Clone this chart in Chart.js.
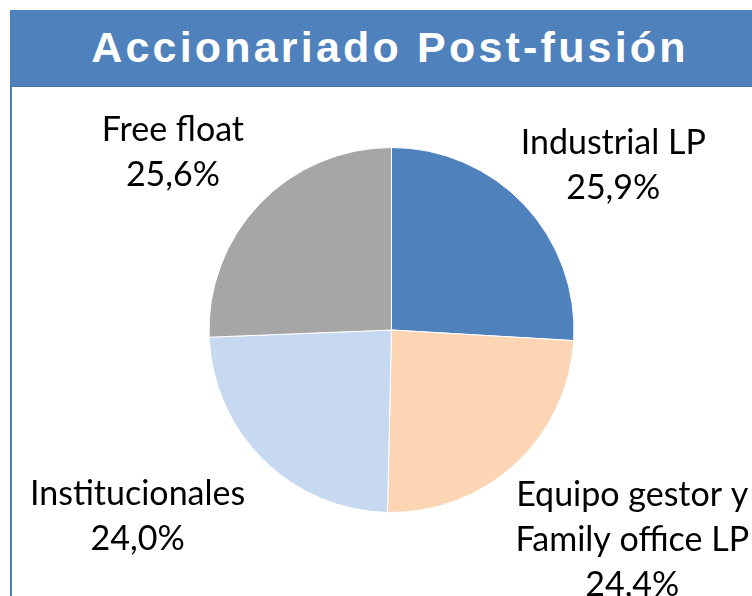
<!DOCTYPE html>
<html>
<head>
<meta charset="utf-8">
<script src="https://cdn.jsdelivr.net/npm/chart.js@4.4.0/dist/chart.umd.min.js"></script>
<style>
  html, body { margin: 0; padding: 0; background: #fff; overflow: hidden; }
  #page { position: relative; width: 752px; height: 596px; overflow: hidden; }
  #frame {
    position: absolute; left: 10px; top: 10px; width: 780px; height: 620px;
    border: 2px solid #4A7EBB; box-sizing: border-box;
  }
  #titleBar {
    position: absolute; left: 10px; top: 10px; width: 780px; height: 77px;
    background: #4F81BD; border-bottom: 1px solid #4472A8; box-sizing: border-box;
  }
  #title {
    position: absolute; left: 9px; top: 26px; width: 762px; text-align: center;
    color: #fff; font: bold 43px/42px "Liberation Sans", Arial, sans-serif; letter-spacing: 3.2px;
  }
  #pie { position: absolute; left: 0; top: 0; }
</style>
</head>
<body>
<div id="page">
  <div id="frame"></div>
  <div id="titleBar"></div>
  <div id="title">Accionariado Post-fusión</div>
  <canvas id="pie" width="752" height="596"></canvas>
</div>
<script>
const categories = ["Industrial LP", ["Equipo gestor y", "Family office LP"], "Institucionales", "Free float"];
const shares = [25.9, 24.4, 24.0, 25.6];
const sliceColors = ["#4F81BD", "#FCD5B5", "#C6D9F1", "#A6A6A6"];

// label placement relative to the outer midpoint of each slice
const labelNudge = [
  { dx: 89, dy: -39 },
  { dx: 117, dy: 76 },
  { dx: -126, dy: 56 },
  { dx: -87, dy: -51 }
];

const outsideLabels = {
  id: "outsideLabels",
  afterDraw(chart) {
    const ctx = chart.ctx;
    const meta = chart.getDatasetMeta(0);
    ctx.save();
    ctx.fillStyle = "#000";
    ctx.font = "34px Lato, 'Open Sans', sans-serif";
    ctx.textAlign = "center";
    ctx.textBaseline = "middle";
    const lineH = 45;
    meta.data.forEach((arc, i) => {
      const p = arc.getProps(["x", "y", "startAngle", "endAngle", "outerRadius"], true);
      const mid = (p.startAngle + p.endAngle) / 2;
      const x = p.x + Math.cos(mid) * p.outerRadius + labelNudge[i].dx;
      const y = p.y + Math.sin(mid) * p.outerRadius + labelNudge[i].dy;
      const name = chart.data.labels[i];
      const lines = (Array.isArray(name) ? name.slice() : [name]);
      lines.push(shares[i].toFixed(1).replace(".", ",") + "%");
      const top = y - (lines.length - 1) * lineH / 2;
      lines.forEach((t, k) => ctx.fillText(t, x, top + k * lineH));
    });
    ctx.restore();
  }
};

new Chart(document.getElementById("pie"), {
  type: "pie",
  data: {
    labels: categories,
    datasets: [{
      data: shares,
      backgroundColor: sliceColors,
      borderColor: "#ffffff",
      borderWidth: 1
    }]
  },
  options: {
    responsive: false,
    animation: false,
    layout: { padding: { left: 208, top: 147, right: 177, bottom: 83 } },
    plugins: {
      legend: { display: false },
      tooltip: { enabled: false }
    }
  },
  plugins: [outsideLabels]
});
</script>
</body>
</html>
